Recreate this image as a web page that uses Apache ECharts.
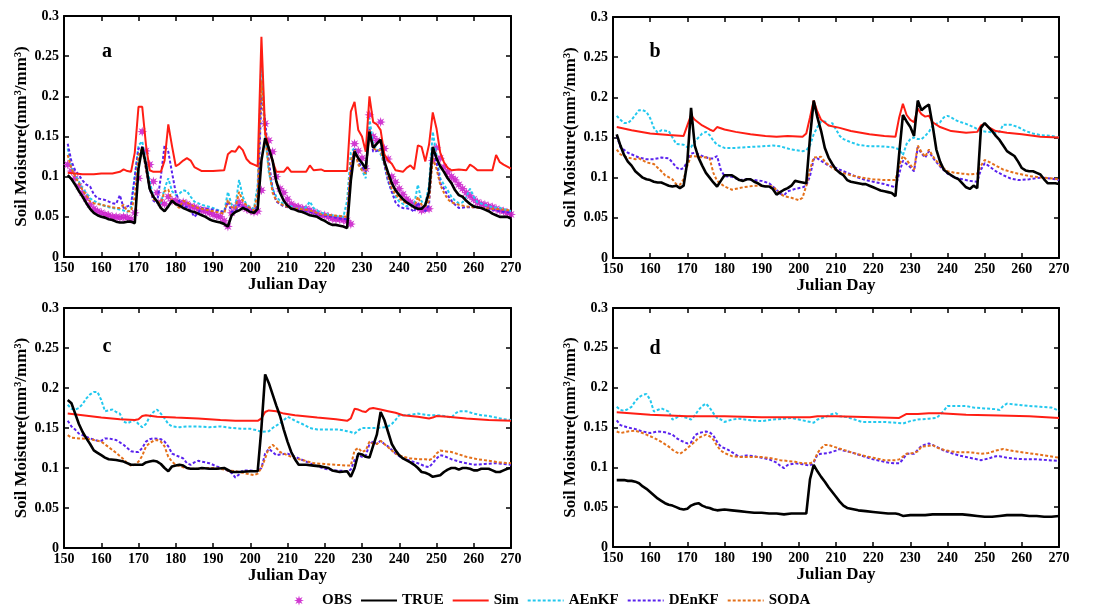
<!DOCTYPE html>
<html><head><meta charset="utf-8">
<script src="https://cdn.jsdelivr.net/npm/echarts@6/dist/echarts.min.js"></script>
<style>html,body{margin:0;padding:0;background:#fff}#c{width:1099px;height:611px}</style>
</head><body><div id="c"></div>
<script>
// ---------- data (Julian day, soil moisture) ----------
const panelLetters = ['a','b','c','d'];
const legendNames = ['OBS','TRUE','Sim','AEnKF','DEnKF','SODA'];
const xAxisName = 'Julian Day';
const yAxisName = 'Soil Moisture(mm³/mm³)';

const aObs = [[151,.115],[152,.107],[153,.098],[154,.088],[155,.08],[156,.073],[157,.065],[158,.06],[159,.057],[160,.055],[161,.053],[162,.052],[163,.05],[164,.05],[165,.049],[166,.05],[167,.049],[168,.047],[169,.055],[170,.098],[171,.156],[172,.132],[173,.115],[174,.094],[175,.08],[176,.068],[177,.066],[178,.075],[179,.07],[180,.07],[181,.067],[182,.068],[183,.066],[184,.063],[185,.062],[186,.06],[187,.058],[188,.057],[189,.055],[190,.053],[191,.051],[192,.05],[193,.045],[194,.038],[195,.055],[196,.062],[197,.068],[198,.063],[199,.06],[200,.058],[201,.056],[202,.057],[203,.083],[204,.166],[205,.145],[206,.131],[207,.1],[208,.085],[209,.08],[210,.072],[211,.066],[212,.063],[213,.062],[214,.06],[215,.06],[216,.058],[217,.056],[218,.054],[219,.052],[220,.052],[221,.05],[222,.048],[223,.047],[224,.047],[225,.046],[226,.045],[227,.041],[228,.141],[229,.132],[230,.123],[231,.11],[232,.177],[233,.15],[234,.145],[235,.168],[236,.135],[237,.122],[238,.1],[239,.093],[240,.085],[241,.078],[242,.072],[243,.068],[244,.065],[245,.062],[246,.058],[247,.06],[248,.06],[249,.12],[250,.136],[251,.123],[252,.112],[253,.106],[254,.1],[255,.096],[256,.09],[257,.085],[258,.08],[259,.076],[260,.072],[261,.068],[262,.066],[263,.065],[264,.063],[265,.062],[266,.06],[267,.058],[268,.057],[269,.055],[270,.053]];
const aTrue = [[151,.102],[152,.097],[153,.09],[154,.082],[155,.075],[156,.067],[157,.06],[158,.055],[159,.052],[160,.05],[161,.049],[162,.047],[163,.046],[164,.044],[165,.043],[166,.043],[167,.044],[168,.044],[169,.042],[170,.11],[171,.137],[172,.115],[173,.085],[174,.075],[175,.069],[176,.061],[177,.057],[178,.063],[179,.07],[180,.066],[181,.064],[182,.061],[183,.059],[184,.057],[185,.056],[186,.054],[187,.052],[188,.05],[189,.047],[190,.045],[191,.044],[192,.043],[193,.041],[194,.038],[195,.052],[196,.056],[197,.058],[198,.061],[199,.059],[200,.056],[201,.055],[202,.06],[203,.12],[204,.148],[205,.135],[206,.12],[207,.094],[208,.08],[209,.07],[210,.064],[211,.06],[212,.059],[213,.057],[214,.056],[215,.054],[216,.052],[217,.051],[218,.05],[219,.047],[220,.045],[221,.042],[222,.04],[223,.04],[224,.039],[225,.038],[226,.036],[227,.095],[228,.131],[229,.123],[230,.117],[231,.11],[232,.156],[233,.136],[234,.141],[235,.146],[236,.119],[237,.105],[238,.092],[239,.083],[240,.077],[241,.072],[242,.068],[243,.065],[244,.062],[245,.06],[246,.06],[247,.065],[248,.081],[249,.137],[250,.123],[251,.113],[252,.106],[253,.098],[254,.092],[255,.083],[256,.077],[257,.075],[258,.07],[259,.066],[260,.063],[261,.062],[262,.061],[263,.059],[264,.057],[265,.054],[266,.052],[267,.05],[268,.05],[269,.05],[270,.048]];
const aSim = [[151,.105],[153,.104],[155,.103],[158,.103],[160,.104],[163,.104],[165,.106],[166,.109],[167,.107],[168,.106],[169,.13],[170,.187],[171,.187],[172,.14],[173,.108],[174,.106],[176,.106],[177,.12],[178,.165],[179,.138],[180,.113],[181,.116],[182,.12],[183,.123],[184,.12],[185,.112],[187,.107],[190,.107],[193,.108],[194,.128],[195,.132],[196,.131],[197,.138],[198,.133],[199,.122],[200,.117],[201,.115],[202,.113],[203,.274],[204,.156],[205,.135],[206,.119],[207,.106],[209,.106],[210,.112],[211,.106],[215,.106],[216,.114],[217,.108],[219,.109],[220,.107],[226,.107],[227,.181],[228,.193],[229,.158],[230,.15],[231,.131],[232,.2],[233,.168],[234,.165],[235,.158],[236,.128],[237,.12],[238,.116],[239,.108],[241,.106],[242,.111],[243,.114],[244,.109],[245,.139],[246,.137],[247,.119],[248,.14],[249,.18],[250,.16],[251,.13],[252,.118],[253,.111],[254,.108],[256,.109],[258,.108],[259,.115],[260,.112],[261,.108],[265,.108],[266,.127],[267,.118],[268,.115],[270,.11]];
const aAen = [[151,.135],[152,.112],[153,.102],[154,.094],[155,.085],[156,.08],[157,.073],[158,.07],[160,.065],[162,.062],[164,.06],[165,.059],[166,.058],[167,.056],[168,.062],[169,.1],[170,.139],[171,.144],[172,.12],[173,.094],[174,.075],[175,.069],[176,.067],[177,.085],[178,.098],[179,.082],[180,.077],[181,.079],[182,.083],[183,.082],[184,.075],[185,.069],[187,.065],[190,.061],[192,.057],[193,.056],[194,.081],[195,.065],[196,.063],[197,.096],[198,.075],[199,.065],[200,.062],[201,.06],[202,.09],[203,.247],[204,.152],[205,.105],[206,.085],[207,.075],[209,.065],[211,.063],[212,.061],[214,.06],[215,.062],[216,.069],[217,.061],[219,.055],[221,.053],[223,.051],[225,.05],[226,.07],[227,.13],[228,.136],[229,.119],[230,.108],[231,.098],[232,.173],[233,.139],[234,.135],[235,.128],[236,.115],[237,.094],[238,.082],[239,.075],[240,.069],[241,.066],[242,.063],[244,.065],[245,.09],[246,.069],[247,.066],[248,.09],[249,.156],[250,.127],[251,.098],[252,.09],[253,.083],[254,.075],[255,.07],[256,.067],[257,.068],[258,.075],[259,.085],[260,.075],[261,.068],[263,.065],[265,.062],[267,.061],[270,.057]];
const aDen = [[151,.141],[152,.119],[153,.108],[154,.102],[155,.095],[156,.09],[157,.088],[158,.078],[159,.073],[160,.072],[161,.071],[162,.069],[163,.067],[164,.066],[165,.077],[166,.061],[167,.063],[168,.065],[169,.1],[170,.135],[171,.137],[172,.11],[173,.085],[174,.07],[175,.067],[176,.1],[177,.139],[178,.131],[179,.105],[180,.08],[181,.069],[182,.063],[183,.062],[184,.058],[185,.05],[186,.055],[187,.061],[189,.06],[191,.058],[193,.056],[194,.069],[195,.056],[196,.058],[197,.065],[198,.062],[199,.06],[200,.058],[201,.058],[202,.065],[203,.2],[204,.17],[205,.119],[206,.085],[207,.069],[209,.063],[211,.061],[214,.058],[216,.056],[219,.052],[222,.05],[224,.048],[226,.047],[227,.11],[228,.135],[229,.118],[230,.112],[231,.106],[232,.16],[233,.131],[234,.132],[235,.135],[236,.115],[237,.095],[238,.081],[239,.068],[240,.063],[241,.061],[243,.06],[244,.056],[245,.068],[246,.06],[247,.057],[248,.065],[249,.135],[250,.118],[251,.092],[252,.085],[253,.077],[254,.07],[255,.065],[256,.061],[258,.062],[261,.062],[264,.06],[267,.057],[270,.055]];
const aSoda = [[151,.127],[152,.11],[153,.1],[154,.092],[155,.083],[156,.077],[157,.069],[158,.067],[160,.065],[162,.063],[164,.061],[165,.061],[166,.065],[167,.057],[168,.057],[169,.075],[170,.127],[171,.135],[172,.11],[173,.086],[174,.072],[175,.069],[176,.067],[177,.082],[178,.084],[179,.07],[180,.065],[181,.061],[182,.07],[183,.068],[184,.065],[186,.061],[188,.059],[190,.057],[192,.055],[193,.054],[194,.071],[195,.062],[196,.06],[197,.081],[198,.07],[199,.064],[200,.061],[201,.058],[202,.08],[203,.22],[204,.15],[205,.11],[206,.08],[207,.07],[209,.064],[211,.061],[213,.06],[216,.058],[219,.053],[222,.052],[224,.051],[226,.05],[227,.12],[228,.133],[229,.115],[230,.108],[231,.104],[232,.158],[233,.135],[234,.133],[235,.133],[236,.117],[237,.1],[238,.085],[239,.078],[240,.073],[241,.069],[243,.065],[244,.062],[245,.075],[246,.065],[247,.063],[248,.07],[249,.123],[250,.11],[251,.09],[252,.08],[253,.072],[254,.068],[256,.065],[258,.063],[260,.062],[262,.061],[265,.06],[268,.059],[270,.058]];

const bTrue = [[151,.154],[152,.14],[153,.128],[154,.12],[155,.115],[156,.108],[157,.104],[158,.1],[159,.098],[160,.097],[161,.095],[162,.094],[163,.094],[164,.092],[165,.09],[166,.089],[167,.09],[168,.087],[169,.09],[170,.12],[171,.187],[172,.14],[173,.125],[174,.115],[175,.106],[176,.1],[177,.094],[178,.089],[179,.096],[180,.103],[181,.103],[182,.103],[183,.1],[184,.097],[185,.096],[186,.098],[187,.098],[188,.095],[189,.093],[190,.09],[191,.089],[192,.089],[193,.086],[194,.079],[195,.082],[196,.085],[197,.087],[198,.09],[199,.096],[200,.095],[201,.094],[202,.093],[203,.15],[204,.196],[205,.175],[206,.158],[207,.137],[208,.125],[209,.117],[210,.11],[211,.106],[212,.103],[213,.097],[214,.095],[215,.094],[216,.093],[217,.092],[218,.092],[219,.09],[220,.088],[221,.086],[222,.084],[223,.083],[224,.082],[225,.081],[226,.077],[227,.13],[228,.178],[229,.17],[230,.163],[231,.152],[232,.196],[233,.184],[234,.188],[235,.191],[236,.165],[237,.135],[238,.12],[239,.11],[240,.106],[241,.103],[242,.1],[243,.098],[244,.093],[245,.088],[246,.086],[247,.09],[248,.087],[249,.162],[250,.168],[251,.163],[252,.158],[253,.152],[254,.147],[255,.14],[256,.133],[257,.13],[258,.127],[259,.12],[260,.112],[261,.109],[262,.108],[263,.108],[264,.106],[265,.104],[266,.098],[267,.093],[268,.093],[269,.093],[270,.092]];
const bSim = [[151,.163],[155,.159],[160,.155],[165,.153],[169,.152],[170,.165],[171,.178],[172,.172],[174,.165],[176,.16],[177,.158],[178,.163],[180,.16],[183,.157],[187,.154],[191,.152],[194,.151],[197,.152],[201,.151],[202,.155],[203,.175],[204,.196],[205,.182],[206,.172],[208,.165],[211,.162],[214,.158],[219,.154],[223,.152],[226,.151],[227,.175],[228,.192],[229,.178],[230,.172],[231,.169],[232,.186],[233,.179],[234,.176],[235,.177],[236,.169],[238,.163],[241,.158],[245,.156],[248,.157],[249,.165],[250,.167],[251,.163],[253,.158],[256,.156],[260,.154],[265,.151],[270,.15]];
const bAen = [[151,.177],[152,.172],[153,.168],[154,.168],[155,.172],[156,.178],[157,.184],[158,.184],[159,.182],[160,.174],[161,.162],[162,.156],[163,.159],[165,.158],[166,.15],[167,.142],[169,.141],[170,.138],[171,.138],[172,.145],[173,.15],[174,.155],[175,.157],[176,.153],[177,.146],[178,.141],[180,.137],[183,.137],[186,.138],[190,.139],[193,.14],[195,.139],[198,.135],[201,.133],[202,.134],[203,.14],[204,.154],[205,.163],[206,.17],[207,.17],[208,.165],[209,.168],[210,.16],[211,.152],[212,.148],[214,.144],[216,.141],[219,.139],[222,.139],[225,.138],[226,.137],[227,.135],[228,.128],[229,.142],[230,.148],[231,.15],[232,.148],[233,.148],[234,.152],[235,.157],[236,.165],[238,.169],[239,.175],[240,.177],[241,.175],[242,.172],[243,.17],[245,.167],[247,.163],[249,.158],[251,.157],[253,.156],[254,.157],[255,.166],[257,.166],[259,.163],[261,.158],[263,.155],[265,.153],[268,.152],[270,.15]];
const bDen = [[151,.152],[152,.138],[154,.131],[156,.127],[157,.125],[159,.123],[161,.123],[163,.125],[165,.124],[166,.119],[167,.113],[168,.11],[169,.112],[170,.12],[171,.13],[172,.131],[174,.127],[176,.124],[177,.124],[178,.127],[179,.11],[180,.102],[182,.101],[184,.097],[186,.098],[188,.097],[190,.096],[192,.093],[194,.085],[195,.08],[196,.078],[197,.083],[199,.086],[201,.088],[202,.09],[203,.102],[204,.123],[205,.124],[206,.121],[208,.115],[210,.112],[212,.108],[214,.104],[216,.1],[218,.097],[220,.095],[223,.092],[226,.088],[227,.105],[228,.121],[229,.117],[230,.113],[231,.108],[232,.138],[233,.13],[234,.125],[235,.133],[236,.125],[238,.114],[240,.105],[242,.1],[244,.098],[246,.096],[248,.095],[249,.11],[250,.118],[251,.115],[253,.108],[255,.103],[257,.099],[259,.097],[262,.098],[265,.1],[268,.099],[270,.097]];
const bSoda = [[151,.135],[152,.129],[154,.125],[156,.123],[157,.124],[159,.119],[161,.117],[163,.108],[164,.103],[166,.098],[167,.092],[168,.091],[169,.098],[170,.115],[171,.127],[173,.126],[175,.125],[176,.124],[177,.106],[178,.096],[180,.089],[182,.085],[185,.088],[188,.09],[190,.09],[193,.089],[195,.08],[196,.077],[198,.075],[200,.072],[201,.075],[202,.09],[203,.11],[204,.125],[206,.126],[207,.12],[209,.112],[211,.107],[214,.103],[217,.1],[220,.098],[223,.097],[226,.097],[227,.115],[228,.127],[229,.122],[230,.116],[231,.11],[232,.14],[233,.132],[234,.126],[235,.135],[236,.127],[238,.115],[240,.108],[242,.106],[244,.105],[246,.104],[248,.105],[249,.115],[250,.122],[251,.12],[253,.115],[255,.11],[258,.106],[262,.102],[266,.1],[270,.098]];

const cTrue = [[151,.185],[152,.181],[153,.168],[154,.155],[155,.145],[156,.137],[157,.13],[158,.122],[159,.119],[160,.116],[161,.113],[162,.111],[164,.11],[166,.108],[168,.104],[170,.104],[171,.104],[172,.107],[173,.108],[174,.109],[175,.108],[176,.105],[177,.1],[178,.096],[179,.102],[180,.103],[181,.104],[182,.103],[183,.1],[184,.099],[186,.099],[187,.1],[189,.099],[191,.099],[193,.1],[195,.095],[197,.095],[200,.096],[202,.096],[203,.15],[204,.217],[205,.206],[206,.192],[207,.178],[208,.165],[209,.148],[210,.133],[211,.12],[212,.111],[213,.104],[215,.104],[217,.103],[219,.102],[221,.1],[222,.097],[224,.095],[226,.096],[227,.089],[228,.1],[229,.118],[230,.117],[231,.114],[232,.113],[233,.128],[234,.142],[235,.17],[236,.16],[237,.145],[238,.13],[239,.122],[240,.116],[241,.112],[243,.107],[244,.104],[245,.1],[246,.095],[247,.094],[248,.092],[249,.089],[250,.09],[251,.091],[252,.095],[253,.098],[254,.1],[255,.1],[256,.098],[257,.1],[258,.1],[259,.099],[260,.097],[261,.097],[262,.099],[263,.099],[264,.099],[265,.097],[266,.095],[267,.095],[268,.097],[269,.099],[270,.1]];
const cSim = [[151,.168],[155,.166],[160,.163],[165,.161],[169,.16],[170,.161],[171,.165],[172,.166],[175,.164],[180,.163],[186,.162],[192,.16],[196,.159],[202,.159],[203,.162],[204,.17],[205,.172],[207,.171],[209,.168],[212,.166],[218,.163],[223,.161],[226,.159],[227,.162],[228,.174],[229,.173],[230,.171],[231,.17],[232,.174],[233,.175],[235,.173],[237,.171],[239,.169],[241,.166],[245,.164],[248,.162],[249,.163],[250,.165],[253,.164],[258,.162],[264,.16],[270,.159]];
const cAen = [[151,.179],[152,.174],[153,.173],[154,.175],[155,.18],[156,.187],[157,.192],[158,.195],[159,.195],[160,.185],[161,.171],[162,.172],[163,.173],[164,.17],[165,.168],[166,.158],[167,.156],[168,.158],[169,.16],[170,.155],[171,.151],[172,.155],[173,.164],[174,.17],[175,.173],[176,.168],[177,.162],[178,.155],[179,.152],[181,.151],[183,.152],[186,.152],[189,.151],[192,.152],[195,.15],[198,.149],[200,.149],[202,.147],[203,.145],[205,.146],[206,.15],[208,.156],[209,.16],[210,.164],[211,.162],[212,.159],[214,.155],[216,.15],[218,.148],[221,.148],[224,.148],[226,.146],[227,.145],[228,.143],[229,.147],[230,.15],[232,.15],[234,.15],[236,.151],[237,.152],[238,.155],[239,.16],[240,.166],[242,.166],[245,.168],[248,.166],[250,.166],[252,.165],[254,.163],[255,.168],[256,.171],[258,.171],[260,.168],[262,.166],[264,.165],[266,.163],[268,.161],[270,.16]];
const cDen = [[151,.159],[152,.152],[153,.148],[154,.143],[155,.141],[157,.137],[159,.134],[160,.134],[161,.137],[162,.137],[163,.136],[164,.135],[165,.132],[166,.129],[167,.125],[168,.121],[169,.12],[170,.12],[171,.125],[172,.133],[173,.136],[174,.137],[176,.136],[177,.133],[178,.127],[179,.118],[180,.116],[182,.112],[183,.106],[184,.104],[185,.107],[186,.109],[187,.108],[189,.106],[191,.102],[193,.099],[195,.094],[196,.088],[197,.092],[198,.097],[200,.097],[202,.096],[203,.1],[204,.118],[205,.124],[206,.12],[207,.116],[208,.117],[210,.118],[212,.114],[214,.11],[217,.104],[220,.099],[223,.097],[226,.096],[227,.098],[228,.11],[229,.116],[230,.114],[231,.115],[232,.13],[233,.133],[234,.13],[235,.134],[236,.13],[237,.127],[239,.118],[241,.112],[243,.109],[245,.106],[247,.102],[248,.101],[249,.106],[250,.112],[251,.116],[252,.115],[254,.111],[256,.108],[258,.106],[260,.104],[263,.105],[266,.106],[268,.105],[270,.104]];
const cSoda = [[151,.141],[152,.138],[154,.137],[157,.136],[159,.134],[160,.133],[162,.126],[164,.119],[166,.111],[167,.106],[168,.103],[169,.104],[170,.108],[171,.115],[172,.127],[173,.131],[174,.134],[175,.135],[176,.133],[177,.127],[178,.114],[179,.108],[180,.104],[182,.101],[184,.099],[186,.099],[188,.1],[190,.1],[192,.099],[194,.097],[196,.096],[198,.094],[200,.092],[201,.091],[202,.093],[203,.1],[204,.112],[205,.125],[206,.129],[207,.125],[208,.12],[210,.116],[212,.112],[214,.11],[217,.106],[220,.105],[223,.104],[226,.103],[227,.103],[228,.122],[229,.125],[230,.12],[231,.122],[232,.133],[233,.13],[234,.13],[235,.134],[236,.13],[237,.126],[239,.118],[241,.114],[243,.112],[245,.111],[247,.111],[248,.11],[249,.112],[250,.118],[251,.122],[252,.121],[254,.12],[256,.117],[258,.114],[261,.111],[264,.109],[267,.107],[270,.106]];

const dTrue = [[151,.084],[152,.084],[153,.084],[154,.083],[155,.083],[156,.082],[157,.08],[158,.076],[159,.073],[160,.069],[161,.065],[162,.061],[163,.058],[164,.055],[165,.053],[166,.052],[167,.05],[168,.048],[169,.047],[170,.048],[171,.052],[172,.054],[173,.055],[174,.052],[175,.05],[176,.049],[177,.047],[178,.046],[180,.047],[182,.046],[184,.045],[186,.044],[188,.043],[190,.043],[192,.042],[194,.042],[196,.041],[198,.042],[200,.042],[202,.042],[203,.085],[204,.103],[205,.095],[206,.088],[207,.082],[208,.075],[209,.069],[210,.063],[211,.057],[212,.052],[213,.049],[214,.048],[216,.046],[218,.045],[220,.044],[222,.043],[224,.042],[226,.042],[227,.041],[228,.039],[230,.04],[232,.04],[234,.04],[236,.041],[238,.041],[240,.041],[242,.041],[244,.041],[246,.04],[248,.039],[250,.038],[252,.038],[254,.039],[256,.04],[258,.04],[260,.04],[262,.039],[264,.039],[266,.038],[268,.038],[270,.039]];
const dSim = [[151,.169],[160,.166],[170,.164],[180,.164],[190,.163],[200,.163],[203,.163],[205,.164],[210,.164],[220,.163],[227,.162],[229,.167],[232,.167],[235,.168],[238,.168],[245,.166],[254,.165],[262,.164],[270,.162]];
const dAen = [[151,.176],[152,.172],[153,.171],[154,.173],[155,.176],[156,.183],[157,.188],[158,.191],[159,.192],[160,.185],[161,.17],[162,.172],[163,.174],[164,.172],[165,.17],[166,.16],[167,.162],[168,.165],[169,.163],[170,.162],[171,.16],[172,.165],[173,.172],[174,.177],[175,.18],[176,.175],[177,.168],[178,.162],[179,.16],[180,.157],[182,.16],[184,.161],[187,.159],[190,.158],[193,.16],[196,.161],[198,.162],[200,.16],[202,.158],[204,.156],[205,.16],[207,.163],[209,.167],[210,.168],[211,.164],[213,.163],[215,.16],[217,.157],[220,.157],[223,.157],[226,.156],[228,.155],[230,.158],[232,.16],[235,.161],[237,.162],[238,.166],[239,.171],[240,.177],[242,.177],[245,.177],[247,.175],[250,.174],[253,.173],[254,.172],[255,.177],[256,.18],[258,.179],[260,.178],[262,.177],[265,.176],[268,.175],[270,.171]];
const dDen = [[151,.159],[152,.153],[154,.15],[156,.148],[158,.145],[160,.143],[161,.144],[162,.145],[164,.144],[166,.141],[167,.137],[168,.134],[169,.132],[170,.13],[171,.131],[172,.14],[173,.143],[175,.145],[176,.144],[177,.14],[178,.132],[179,.126],[181,.122],[183,.116],[184,.113],[186,.115],[188,.114],[190,.112],[192,.11],[194,.106],[195,.102],[196,.099],[197,.103],[199,.105],[201,.104],[203,.102],[204,.106],[205,.116],[206,.117],[208,.118],[210,.121],[211,.123],[212,.121],[214,.119],[216,.116],[218,.113],[220,.11],[222,.108],[224,.106],[226,.105],[227,.105],[228,.11],[229,.117],[231,.117],[232,.122],[233,.127],[235,.13],[236,.128],[237,.126],[239,.121],[241,.118],[243,.115],[245,.113],[247,.111],[249,.109],[251,.111],[253,.114],[254,.114],[256,.112],[258,.111],[261,.11],[264,.11],[267,.109],[270,.108]];
const dSoda = [[151,.145],[152,.143],[154,.145],[156,.146],[158,.143],[159,.141],[161,.137],[163,.132],[165,.126],[166,.122],[167,.119],[168,.117],[169,.12],[170,.124],[172,.132],[173,.137],[175,.141],[176,.139],[177,.135],[178,.127],[179,.121],[180,.118],[182,.114],[184,.113],[187,.113],[190,.113],[193,.111],[195,.109],[197,.108],[199,.107],[201,.105],[203,.105],[204,.107],[205,.118],[206,.124],[207,.128],[208,.128],[210,.125],[212,.122],[214,.119],[217,.115],[220,.112],[223,.109],[226,.109],[227,.11],[229,.117],[231,.118],[232,.12],[233,.126],[235,.127],[236,.128],[237,.125],[239,.122],[241,.12],[243,.119],[246,.119],[249,.117],[251,.118],[253,.121],[255,.123],[257,.121],[260,.119],[263,.117],[266,.115],[270,.112]];

const panels = [
  {obs: aObs, TRUE: aTrue, Sim: aSim, AEnKF: aAen, DEnKF: aDen, SODA: aSoda},
  {TRUE: bTrue, Sim: bSim, AEnKF: bAen, DEnKF: bDen, SODA: bSoda},
  {TRUE: cTrue, Sim: cSim, AEnKF: cAen, DEnKF: cDen, SODA: cSoda},
  {TRUE: dTrue, Sim: dSim, AEnKF: dAen, DEnKF: dDen, SODA: dSoda}
];

// ---------- layout / style ----------
const FONT = 'Liberation Serif';
const grids = [
  {left: 64, top: 16, width: 447, height: 241},
  {left: 613, top: 17, width: 446, height: 241},
  {left: 64, top: 308, width: 447, height: 240},
  {left: 613, top: 308, width: 446, height: 239}
];
const letterPos = [[107, 52], [655, 52], [107, 347], [655, 349]];
const colors = {OBS: '#cc22cc', TRUE: '#000000', Sim: '#ff1e14', AEnKF: '#22c8ee', DEnKF: '#5a22ee', SODA: '#e4701a'};
const ASTER = 'path://M10 0L11.72 5.84L17.07 2.93L14.16 8.28L20 10L14.16 11.72L17.07 17.07L11.72 14.16L10 20L8.28 14.16L2.93 17.07L5.84 11.72L0 10L5.84 8.28L2.93 2.93L8.28 5.84Z';

const xAxes = [], yAxes = [], series = [], graphics = [];
grids.forEach((g, i) => {
  const common = {
    gridIndex: i, type: 'value', min: 150, max: 270, interval: 10,
    axisLine: {show: true, onZero: false, lineStyle: {color: '#000', width: 2}},
    axisTick: {show: true, inside: true, length: 5, lineStyle: {color: '#000', width: 1.5}},
    splitLine: {show: false}
  };
  xAxes.push(Object.assign({}, common, {
    position: 'bottom',
    name: xAxisName, nameLocation: 'middle', nameGap: 19,
    nameTextStyle: {fontFamily: FONT, fontWeight: 'bold', fontSize: 17, color: '#000'},
    axisLabel: {fontFamily: FONT, fontWeight: 'bold', fontSize: 14, color: '#000', margin: 4}
  }));
  xAxes.push(Object.assign({}, common, {position: 'top', axisLabel: {show: false}}));
  const ycommon = {
    gridIndex: i, type: 'value', min: 0, max: 0.3, interval: 0.05,
    axisLine: {show: true, onZero: false, lineStyle: {color: '#000', width: 2}},
    axisTick: {show: true, inside: true, length: 5, lineStyle: {color: '#000', width: 1.5}},
    splitLine: {show: false}
  };
  yAxes.push(Object.assign({}, ycommon, {
    position: 'left',
    name: yAxisName, nameLocation: 'middle', nameGap: 34, nameRotate: 90,
    nameTextStyle: {fontFamily: FONT, fontWeight: 'bold', fontSize: 17, color: '#000'},
    axisLabel: {fontFamily: FONT, fontWeight: 'bold', fontSize: 14, color: '#000', margin: 5}
  }));
  yAxes.push(Object.assign({}, ycommon, {position: 'right', axisLabel: {show: false}}));

  const p = panels[i];
  if (p.obs) {
    series.push({
      name: 'OBS', type: 'scatter', xAxisIndex: i * 2, yAxisIndex: i * 2,
      data: p.obs, symbol: ASTER, symbolSize: 10,
      itemStyle: {color: colors.OBS, opacity: 0.9}, z: 1
    });
  }
  const order = ['AEnKF', 'DEnKF', 'SODA', 'Sim', 'TRUE'];
  order.forEach((nm, k) => {
    const dotted = (nm === 'AEnKF' || nm === 'DEnKF' || nm === 'SODA');
    series.push({
      name: nm, type: 'line', xAxisIndex: i * 2, yAxisIndex: i * 2,
      data: p[nm], showSymbol: false, symbol: 'none',
      lineStyle: {color: colors[nm], width: nm === 'TRUE' ? 2.6 : 2, type: dotted ? [3, 2] : 'solid'},
      itemStyle: {color: colors[nm]}, z: 2 + k
    });
  });
  graphics.push({
    type: 'text', x: letterPos[i][0], y: letterPos[i][1],
    style: {text: panelLetters[i], font: 'bold 20px ' + FONT, fill: '#000', textAlign: 'center', textVerticalAlign: 'middle'}
  });
});

const legendData = legendNames.map(n => n === 'OBS'
  ? {name: n}
  : {name: n, itemStyle: {opacity: 0, borderWidth: 0}});

const chart = echarts.init(document.getElementById('c'), null, {renderer: 'canvas'});
chart.setOption({
  animation: false,
  backgroundColor: '#fff',
  grid: grids,
  xAxis: xAxes,
  yAxis: yAxes,
  series: series,
  graphic: graphics,
  legend: {
    data: legendData, left: 289, top: 588, itemWidth: 36, itemHeight: 10, itemGap: 8,
    textStyle: {fontFamily: FONT, fontWeight: 'bold', fontSize: 15, color: '#000'}
  }
});
</script></body></html>
